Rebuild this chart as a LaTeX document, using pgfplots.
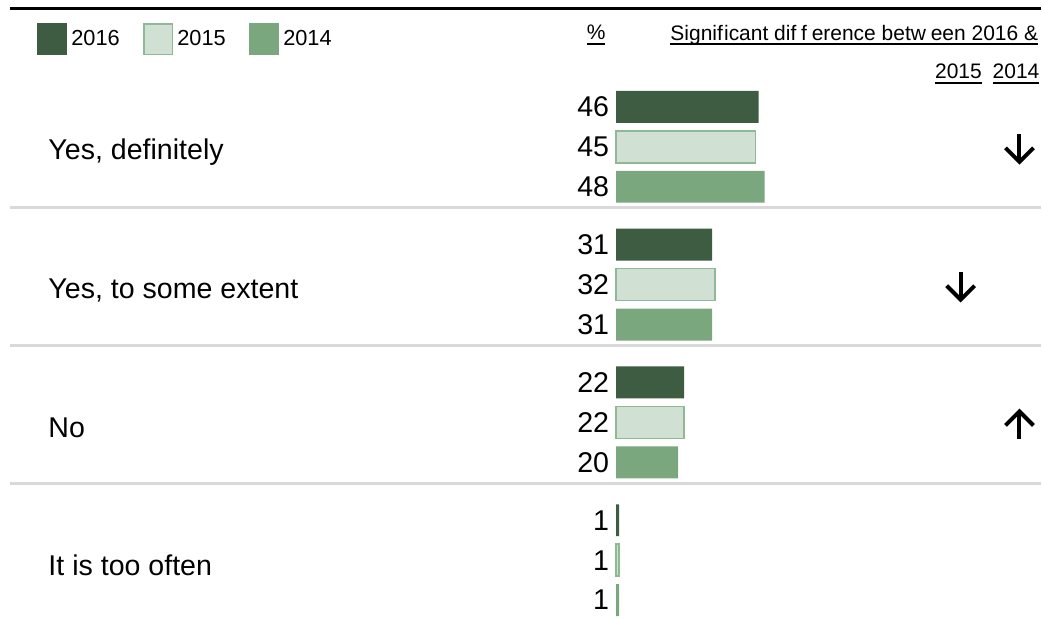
\documentclass[border=0pt]{standalone}
\usepackage{pgfplots}
\pgfplotsset{compat=1.18}
\usepackage{pgfplotstable}
\usepackage{fontspec}
\setmainfont{Liberation Sans}
\usetikzlibrary{arrows.meta}
\definecolor{cA}{RGB}{62,92,66}
\definecolor{cB}{RGB}{208,224,211}
\definecolor{cBd}{RGB}{143,184,148}
\definecolor{cC}{RGB}{122,167,126}
\definecolor{sep}{RGB}{217,217,217}
\newcommand{\bigf}{\fontsize{14.3}{17}\selectfont}
\newcommand{\smlf}{\fontsize{10.5}{12.5}\selectfont}
\newcommand{\legf}{\fontsize{10.9}{12.5}\selectfont}
\newcommand{\ul}[1]{\setbox0\hbox{#1}\rlap{\raisebox{-2.6pt}{\rule{\wd0}{0.9pt}}}\box0}

% 2016
\pgfplotstableread{
g v
0 46
1 31
2 22
3 1
}\dataA
% 2015
\pgfplotstableread{
g v
0 45
1 32
2 22
3 1
}\dataB
% 2014
\pgfplotstableread{
g v
0 48
1 31
2 20
3 1
}\dataC

\begin{document}
\begin{tikzpicture}
\begin{axis}[
  width=521pt, height=309.5pt, scale only axis,
  xmin=-199.03, xmax=137.1,
  ymin=-1.0652, ymax=3.4203, y dir=reverse,
  hide axis, clip=false,
  /pgf/number format/assume math mode=true,
  legend style={at={(rel axis cs:0.0355,0.963)}, anchor=north west, draw=none, fill=none,
    legend columns=-1, font=\legf, inner sep=0pt,
    /tikz/every even column/.append style={column sep=9.8pt}},
  legend cell align=left,
]
\addplot[xbar, bar width=16pt, bar shift=0pt, fill=cA, draw=none,
  legend image code/.code={\fill[cA] (0pt,-8pt) rectangle (15pt,8pt);}]
  table[x=v, y expr=\thisrow{g}-0.29] {\dataA};
\addplot[xbar, bar width=16pt, bar shift=0pt, fill=cB, draw=cBd, line width=0.85pt,
  legend image code/.code={\draw[fill=cB, draw=cBd, line width=0.85pt] (0.4pt,-7.6pt) rectangle (14.6pt,7.6pt);}]
  table[x=v, y expr=\thisrow{g}] {\dataB};
\addplot[xbar, bar width=16pt, bar shift=0pt, fill=cC, draw=none,
  legend image code/.code={\fill[cC] (0pt,-8pt) rectangle (15pt,8pt);}]
  table[x=v, y expr=\thisrow{g}+0.29] {\dataC};
\legend{2016,2015,2014}

\pgfplotsset{lbl/.style={forget plot, draw=none, mark=none, nodes near coords,
  point meta=\thisrow{v},
  every node near coord/.style={anchor=east, font=\bigf, xshift=-3.3pt, inner sep=0pt}}}
\addplot[lbl] table[x expr=0, y expr=\thisrow{g}-0.29] {\dataA};
\addplot[lbl] table[x expr=0, y expr=\thisrow{g}] {\dataB};
\addplot[lbl] table[x expr=0, y expr=\thisrow{g}+0.29] {\dataC};

% frame lines
\draw[line width=1.5pt, black] (axis cs:-195.8,-1.007) -- (axis cs:137.1,-1.007);
\draw[line width=1.5pt, sep] (axis cs:-195.8,0.442) -- (axis cs:137.1,0.442);
\draw[line width=1.5pt, sep] (axis cs:-195.8,1.442) -- (axis cs:137.1,1.442);
\draw[line width=1.5pt, sep] (axis cs:-195.8,2.442) -- (axis cs:137.1,2.442);

% category labels
\node[anchor=west, font=\bigf, inner sep=0pt] at (axis cs:-183.5,0.04) {Yes, definitely};
\node[anchor=west, font=\bigf, inner sep=0pt] at (axis cs:-183.5,1.04) {Yes, to some extent};
\node[anchor=west, font=\bigf, inner sep=0pt] at (axis cs:-183.5,2.04) {No};
\node[anchor=west, font=\bigf, inner sep=0pt] at (axis cs:-183.5,3.04) {It is too often};

% headers
\node[font=\smlf, inner sep=0pt] at (axis cs:-6.45,-0.811) {\ul{\%}};
\node[anchor=east, font=\smlf, inner sep=0pt] at (axis cs:136.45,-0.811) {\ul{Signif\kern0.6pt icant dif\kern2.4pt f\kern2.4pt erence betw\kern2.4pt een 2016 \&}};
\node[font=\smlf, inner sep=0pt] at (axis cs:110.6,-0.53) {\ul{2015}};
\node[font=\smlf, inner sep=0pt] at (axis cs:129.2,-0.53) {\ul{2014}};

% significance arrows
\draw[line width=2pt, -{Straight Barb[length=7pt, width=14pt]}] (axis cs:130.3,-0.09) -- (axis cs:130.3,0.13);
\draw[line width=2pt, -{Straight Barb[length=7pt, width=14pt]}] (axis cs:111.3,0.91) -- (axis cs:111.3,1.13);
\draw[line width=2pt, -{Straight Barb[length=7pt, width=14pt]}] (axis cs:130.3,2.12) -- (axis cs:130.3,1.90);

\path (rel axis cs:0,0) rectangle (rel axis cs:1,1);
\end{axis}
\end{tikzpicture}
\end{document}
